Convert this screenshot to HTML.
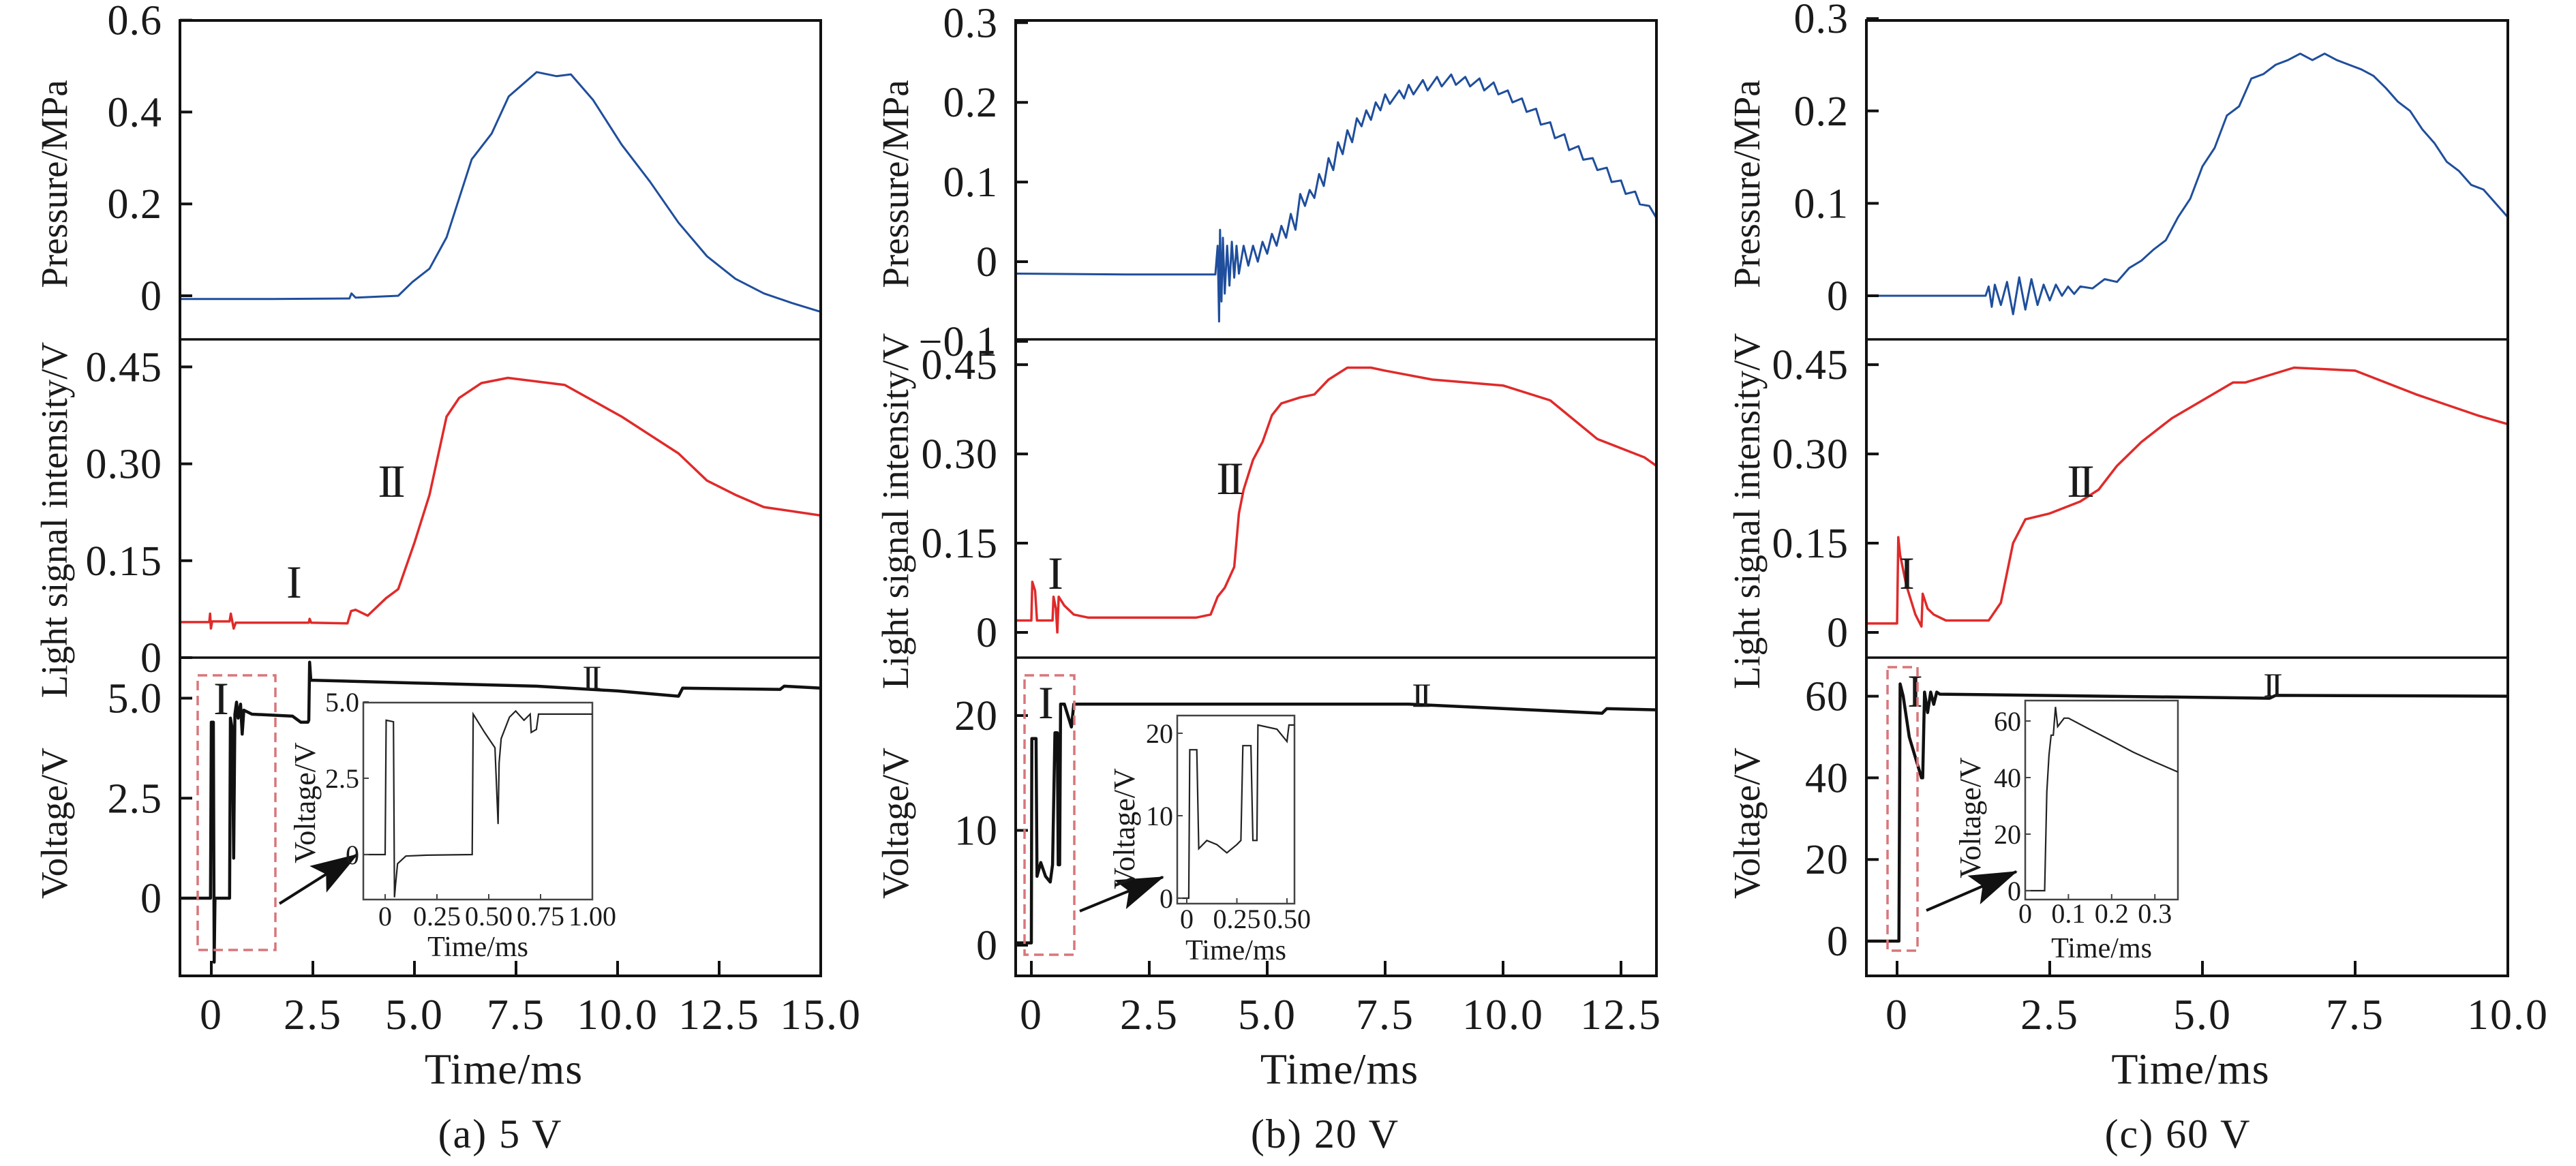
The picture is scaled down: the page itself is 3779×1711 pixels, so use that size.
<!DOCTYPE html>
<html><head><meta charset="utf-8"><style>
html,body{margin:0;padding:0;background:#fff}
svg{display:block}
text{font-family:"Liberation Serif",serif;fill:#1a1a1a}
</style></head><body>
<svg id="fig" width="3779" height="1711" viewBox="0 0 3779 1711" xmlns="http://www.w3.org/2000/svg"></svg>
<script>
// ===== Panel (a) 5 V data =====
const aTicksX=[0,2.5,5,7.5,10,12.5,15];
const aTickLabelsX=["0","2.5","5.0","7.5","10.0","12.5","15.0"];
const aPressT=[-0.77,1.5,3.4,3.45,3.55,4.6,4.95,5.37,5.79,6.41,6.9,7.32,8.01,8.5,8.85,9.4,10.1,10.8,11.5,12.2,12.9,13.6,14.3,15.0];
const aPressV=[-0.007,-0.007,-0.006,0.005,-0.004,0.0,0.03,0.059,0.127,0.297,0.353,0.434,0.487,0.478,0.482,0.426,0.329,0.248,0.159,0.086,0.037,0.005,-0.016,-0.035];
const aLightT=[-0.77,-0.05,-0.03,-0.01,0.02,0.45,0.48,0.55,0.6,1.5,2.4,2.42,2.46,3.35,3.44,3.55,3.85,4.3,4.6,5.0,5.37,5.79,6.1,6.65,7.3,8.7,10.1,11.5,12.2,12.9,13.6,15.0];
const aLightV=[0.055,0.055,0.068,0.045,0.056,0.056,0.068,0.045,0.054,0.054,0.054,0.06,0.054,0.053,0.072,0.074,0.065,0.092,0.106,0.178,0.252,0.373,0.402,0.425,0.433,0.422,0.373,0.316,0.274,0.252,0.233,0.22];
const aVoltT=[-0.77,-0.02,0.0,0.05,0.07,0.09,0.45,0.47,0.52,0.55,0.58,0.62,0.66,0.72,0.76,0.8,1.0,2.0,2.2,2.38,2.4,2.42,2.45,5,8,10,11.5,11.6,14,14.1,15];
const aVoltV=[0.0,0.0,4.4,4.4,-1.6,0.0,0.0,4.5,4.2,1.0,4.6,4.9,4.5,4.85,4.1,4.7,4.6,4.55,4.4,4.4,4.45,5.9,5.45,5.38,5.3,5.18,5.05,5.25,5.22,5.3,5.25];
const aInsT=[-0.105,0.0,0.005,0.04,0.045,0.05,0.06,0.1,0.2,0.42,0.425,0.48,0.53,0.545,0.55,0.56,0.6,0.63,0.67,0.7,0.705,0.73,0.74,1.0];
const aInsV=[0,0,4.4,4.35,-1.4,-1.0,-0.3,-0.05,-0.02,0,4.6,4.0,3.5,1.0,3.0,3.8,4.5,4.7,4.4,4.6,4.0,4.1,4.6,4.6];
// ===== Panel (b) 20 V data =====
const bTicksX=[0,2.5,5,7.5,10,12.5];
const bTickLabelsX=["0","2.5","5.0","7.5","10.0","12.5"];
const bPressT=[-0.33,2,3.9,3.95,3.98,4.0,4.03,4.06,4.1,4.15,4.2,4.25,4.3,4.35,4.4,4.5,4.6,4.7,4.8,4.9,5.0,5.1,5.2,5.3,5.4,5.5,5.6,5.7,5.8,5.9,6.0,6.1,6.2,6.3,6.4,6.5,6.6,6.7,6.8,6.9,7.0,7.1,7.2,7.3,7.4,7.5,7.6,7.8,7.9,8.0,8.1,8.3,8.4,8.6,8.7,8.9,9.0,9.2,9.3,9.5,9.6,9.8,9.9,10.1,10.2,10.4,10.5,10.7,10.8,11.0,11.1,11.3,11.4,11.6,11.7,11.9,12.0,12.2,12.3,12.5,12.6,12.8,12.9,13.1,13.25];
const bPressV=[-0.015,-0.016,-0.016,0.02,-0.075,0.04,-0.05,0.03,-0.04,0.02,-0.03,0.025,-0.02,0.02,-0.015,0.02,-0.005,0.02,0.0,0.025,0.01,0.035,0.02,0.045,0.03,0.06,0.04,0.085,0.07,0.09,0.08,0.11,0.095,0.13,0.115,0.15,0.135,0.165,0.15,0.18,0.17,0.19,0.178,0.2,0.19,0.21,0.198,0.215,0.205,0.222,0.21,0.228,0.215,0.232,0.22,0.235,0.222,0.232,0.22,0.23,0.215,0.225,0.21,0.215,0.2,0.205,0.188,0.192,0.172,0.175,0.155,0.16,0.14,0.145,0.128,0.13,0.115,0.118,0.1,0.102,0.085,0.088,0.072,0.07,0.055];
const bLightT=[-0.33,0.0,0.02,0.08,0.12,0.45,0.47,0.52,0.55,0.58,0.7,0.9,1.2,3.5,3.8,3.95,4.1,4.3,4.4,4.5,4.7,4.9,5.1,5.3,5.7,6.0,6.3,6.7,7.2,7.5,8.5,10,11,12,13,13.25];
const bLightV=[0.02,0.02,0.085,0.07,0.02,0.02,0.06,0.04,0.0,0.06,0.045,0.03,0.025,0.025,0.03,0.06,0.075,0.11,0.2,0.24,0.29,0.32,0.365,0.385,0.395,0.4,0.425,0.445,0.445,0.44,0.425,0.415,0.39,0.325,0.294,0.28];
const bVoltT=[-0.33,0.0,0.01,0.1,0.12,0.2,0.3,0.4,0.45,0.5,0.55,0.57,0.6,0.62,0.7,0.85,0.9,1.0,8,12.1,12.2,13.25];
const bVoltV=[0.2,0.2,18,18,6,7.2,6,5.5,7,18.5,18.5,7,7,21,21,19,21,21,21,20.2,20.6,20.5];
const bInsT=[-0.048,0.01,0.015,0.05,0.06,0.1,0.15,0.2,0.25,0.27,0.28,0.32,0.33,0.35,0.355,0.45,0.5,0.51,0.537];
const bInsV=[0,0,18,18,6,7,6.5,5.5,6.5,7,18.5,18.5,7,7,21,20.5,19,21,21];
// ===== Panel (c) 60 V data =====
const cTicksX=[0,2.5,5,7.5,10];
const cTickLabelsX=["0","2.5","5.0","7.5","10.0"];
const cPressT=[-0.5,1.45,1.5,1.55,1.6,1.7,1.8,1.9,2.0,2.1,2.2,2.3,2.4,2.5,2.6,2.7,2.8,2.9,3.0,3.2,3.4,3.6,3.8,4.0,4.2,4.4,4.6,4.8,5.0,5.2,5.4,5.6,5.8,6.0,6.2,6.4,6.6,6.8,7.0,7.2,7.4,7.6,7.8,8.0,8.2,8.4,8.6,8.8,9.0,9.2,9.4,9.6,9.8,10.0];
const cPressV=[0,0,0.01,-0.012,0.012,-0.01,0.015,-0.02,0.02,-0.015,0.018,-0.01,0.012,-0.005,0.012,0.0,0.01,0.002,0.01,0.008,0.018,0.015,0.03,0.038,0.05,0.06,0.085,0.105,0.14,0.16,0.195,0.205,0.235,0.24,0.25,0.255,0.262,0.255,0.262,0.255,0.25,0.245,0.238,0.225,0.21,0.2,0.18,0.165,0.145,0.135,0.12,0.115,0.1,0.085];
const cLightT=[-0.5,0.0,0.02,0.05,0.15,0.3,0.4,0.42,0.5,0.6,0.8,1.5,1.7,1.9,2.1,2.5,3.0,3.3,3.6,4.0,4.5,5.0,5.5,5.7,6.5,7.5,8.5,9.5,10];
const cLightV=[0.015,0.015,0.16,0.13,0.08,0.03,0.01,0.065,0.04,0.03,0.02,0.02,0.05,0.15,0.19,0.2,0.22,0.24,0.28,0.32,0.36,0.39,0.42,0.42,0.445,0.44,0.4,0.365,0.35];
const cVoltT=[-0.5,0.0,0.03,0.05,0.1,0.2,0.4,0.42,0.45,0.5,0.55,0.6,0.65,0.7,6.1,6.2,10];
const cVoltV=[0,0,0,63,60,50,40,40,61,56,61,58,61,60.5,59.5,60.2,60];
const cInsT=[0,0.045,0.05,0.055,0.06,0.065,0.07,0.075,0.09,0.1,0.15,0.2,0.25,0.3,0.353];
const cInsV=[0,0,35,48,55,55,65,58,61,61,57,53,49,45.5,42];

const NS="http://www.w3.org/2000/svg";
const svg=document.getElementById('fig');
function el(tag,attrs,parent){const e=document.createElementNS(NS,tag);for(const k in attrs)e.setAttribute(k,attrs[k]);(parent||svg).appendChild(e);return e;}
function txt(s,attrs,parent){const e=el('text',attrs,parent);e.textContent=s;return e;}
function pathD(T,V,sx,sy){return T.map((t,i)=>(i?'L':'M')+sx(t).toFixed(1)+','+sy(V[i]).toFixed(1)).join('');}

const TOP=30,D1=498,D2=965,BOT=1432;
const panels=[
 {id:'a',L:264,R:1204,px0:310,pxPer:59.6,ticksX:aTicksX,tlx:aTickLabelsX,
  p:{T:aPressT,V:aPressV,r0:434,per:674,ticks:[0,0.2,0.4,0.6],lab:["0","0.2","0.4","0.6"]},
  l:{T:aLightT,V:aLightV,r0:965,per:948,ticks:[0,0.15,0.3,0.45],lab:["0","0.15","0.30","0.45"]},
  v:{T:aVoltT,V:aVoltV,r0:1318,per:58.7,ticks:[0,2.5,5],lab:["0","2.5","5.0"]},
  ttlX:80,ttlY:[270,763,1208],
  romans:[['I',429,869,'light'],['II',572,721,'light'],['I',322,1040,'volt'],['II',866,1003,'volt']],
  dash:[290,991,404,1394],arrow:[410,1326,524,1254],
  ins:{L:533,R:869,T:1031,B:1320,xs:[0,565,304],ys:[0,1254,44.8],T_:aInsT,V_:aInsV,xt:[0,0.25,0.5,0.75,1.0],xl:["0","0.25","0.50","0.75","1.00"],yt:[0,2.5,5],yl:["0","2.5","5.0"],lx:448,ly:1178,cap:1389,tl:1344},
  caption:'(a) 5 V',capX:734},
 {id:'b',L:1490,R:2430,px0:1513,pxPer:69.2,ticksX:bTicksX,tlx:bTickLabelsX,
  p:{T:bPressT,V:bPressV,r0:384,per:1169,ticks:[-0.1,0,0.1,0.2,0.3],lab:["\u22120.1","0","0.1","0.2","0.3"]},
  l:{T:bLightT,V:bLightV,r0:928,per:873,ticks:[0,0.15,0.3,0.45],lab:["0","0.15","0.30","0.45"]},
  v:{T:bVoltT,V:bVoltV,r0:1387,per:16.85,ticks:[0,10,20],lab:["0","10","20"]},
  ttlX:1314,ttlY:[270,750,1208],
  romans:[['I',1546,856,'light'],['II',1802,717,'light'],['I',1532,1046,'volt'],['II',2083,1029,'volt']],
  dash:[1503,991,1576,1401],arrow:[1584,1337,1706,1287],
  ins:{L:1727,R:1899,T:1050,B:1326,xs:[0,1741,294],ys:[0,1318,12.1],T_:bInsT,V_:bInsV,xt:[0,0.25,0.5],xl:["0","0.25","0.50"],yt:[0,10,20],yl:["0","10","20"],lx:1650,ly:1216,cap:1394,tl:1348},
  caption:'(b) 20 V',capX:1944},
 {id:'c',L:2738,R:3679,px0:2783,pxPer:89.6,ticksX:cTicksX,tlx:cTickLabelsX,
  p:{T:cPressT,V:cPressV,r0:434,per:1356,ticks:[0,0.1,0.2,0.3],lab:["0","0.1","0.2","0.3"]},
  l:{T:cLightT,V:cLightV,r0:928,per:873,ticks:[0,0.15,0.3,0.45],lab:["0","0.15","0.30","0.45"]},
  v:{T:cVoltT,V:cVoltV,r0:1381,per:5.99,ticks:[0,20,40,60],lab:["0","20","40","60"]},
  ttlX:2563,ttlY:[270,750,1208],
  romans:[['I',2795,856,'light'],['II',3050,721,'light'],['I',2807,1029,'volt'],['II',3332,1014,'volt']],
  dash:[2769,979,2813,1395],arrow:[2826,1336,2958,1279],
  ins:{L:2971,R:3195,T:1028,B:1320,xs:[0,2971,634],ys:[0,1307,4.15],T_:cInsT,V_:cInsV,xt:[0,0.1,0.2,0.3],xl:["0","0.1","0.2","0.3"],yt:[0,20,40,60],yl:["0","20","40","60"],lx:2891,ly:1200,cap:1391,tl:1340},
  caption:'(c) 60 V',capX:3195}
];

const defs=el('defs',{});
const mk=el('marker',{id:'arr',orient:'auto',markerUnits:'userSpaceOnUse'},defs);
mk.setAttribute('markerWidth','70');mk.setAttribute('markerHeight','46');mk.setAttribute('refX','68');mk.setAttribute('refY','23');
el('path',{d:'M0,0 L70,23 L0,46 L14,23 Z',fill:'#111'},mk);

panels.forEach(P=>{
  const g=el('g',{});
  
  
  const sx=t=>P.px0+t*P.pxPer;
  const subs=[['pressure',P.p,TOP,D1,'#1f4e9c','Pressure/MPa',3],['light',P.l,D1,D2,'#e02a2a','Light signal intensity/V',3.5],['voltage',P.v,D2,BOT,'#111','Voltage/V',4.5]];
  subs.forEach((s,k)=>{
    const [nm,S,y0,y1,col,ttl,w]=s;
    const cp=el('clipPath',{id:'cp'+P.id+k},defs);
    el('rect',{x:P.L,y:y0,width:P.R-P.L,height:y1-y0},cp);
    const sy=v=>S.r0-v*S.per;
    const ln=el('path',{d:pathD(S.T,S.V,sx,sy),fill:'none',stroke:col,'stroke-width':w,'stroke-linejoin':'round','clip-path':'url(#cp'+P.id+k+')'},g);
    
    
    S.ticks.forEach((tv,i)=>{
      const y=sy(tv);
      el('line',{x1:P.L,x2:P.L+18,y1:y,y2:y,stroke:'#111','stroke-width':4},g);
      const tl=txt(S.lab[i],{x:P.L-26,y:y+21,'font-size':62,'text-anchor':'end','letter-spacing':'1'},g);
      
      
    });
    const yt=txt(ttl,{x:0,y:0,'font-size':55,'text-anchor':'middle',transform:`translate(${P.ttlX+18},${P.ttlY[k]}) rotate(-90)`},g);
    
    
  });
  el('rect',{x:P.L,y:TOP,width:P.R-P.L,height:BOT-TOP,fill:'none',stroke:'#111','stroke-width':4},g);
  el('line',{x1:P.L,x2:P.R,y1:D1,y2:D1,stroke:'#111','stroke-width':3.5},g);
  el('line',{x1:P.L,x2:P.R,y1:D2,y2:D2,stroke:'#111','stroke-width':3.5},g);
  P.ticksX.forEach((tv,i)=>{
    const x=sx(tv);
    el('line',{x1:x,x2:x,y1:BOT,y2:BOT-22,stroke:'#111','stroke-width':4},g);
    const tl=txt(P.tlx[i],{x:x,y:1510,'font-size':64,'text-anchor':'middle','letter-spacing':'2'},g);
    
    
  });
  const xt=txt('Time/ms',{x:(P.L+P.R)/2+5,y:1590,'font-size':64,'text-anchor':'middle','letter-spacing':'1'},g);
  
  
  const cap=txt(P.caption,{x:P.capX,y:1684,'font-size':60,'text-anchor':'middle','letter-spacing':'2'},g);
  
  
  P.romans.forEach(r=>{
    const t=txt(r[0],{x:r[1],y:r[2]+8,'font-size':r[3]==='volt'&&r[0]==='II'?50:68,'text-anchor':'middle','letter-spacing':'-5'},g);
    
    
  });
  const d=P.dash;
  const dr=el('rect',{x:d[0],y:d[1],width:d[2]-d[0],height:d[3]-d[1],fill:'none',stroke:'#d9767a','stroke-width':3.5,'stroke-dasharray':'14 8'},g);
  
  
  const a=P.arrow;
  const ar=el('line',{x1:a[0],y1:a[1],x2:a[2],y2:a[3],stroke:'#111','stroke-width':4,'marker-end':'url(#arr)'},g);
  
  
  const I=P.ins;
  const ig=el('g',{},g);
  
  
  el('rect',{x:I.L,y:I.T,width:I.R-I.L,height:I.B-I.T,fill:'#fff',stroke:'#444','stroke-width':2.5},ig);
  const isx=t=>I.xs[1]+(t-I.xs[0])*I.xs[2];
  const isy=v=>I.ys[1]-(v-I.ys[0])*I.ys[2];
  const icp=el('clipPath',{id:'icp'+P.id},defs);
  el('rect',{x:I.L,y:I.T,width:I.R-I.L,height:I.B-I.T},icp);
  const il=el('path',{d:pathD(I.T_,I.V_,isx,isy),fill:'none',stroke:'#222','stroke-width':2.2,'clip-path':'url(#icp'+P.id+')'},ig);
  
  
  I.xt.forEach((tv,i)=>{const x=isx(tv);el('line',{x1:x,x2:x,y1:I.B,y2:I.B-8,stroke:'#444','stroke-width':2},ig);
    const t=txt(I.xl[i],{x:x,y:I.tl+14,'font-size':40,'text-anchor':'middle'},ig);
    
    });
  I.yt.forEach((tv,i)=>{const y=isy(tv);el('line',{x1:I.L,x2:I.L+8,y1:y,y2:y,stroke:'#444','stroke-width':2},ig);
    const t=txt(I.yl[i],{x:I.L-6,y:y+14,'font-size':40,'text-anchor':'end'},ig);
    
    });
  const ixt=txt('Time/ms',{x:(I.L+I.R)/2,y:I.cap+14,'font-size':42,'text-anchor':'middle'},ig);
  
  
  const iyt=txt('Voltage/V',{x:0,y:0,'font-size':44,'text-anchor':'middle',transform:`translate(${I.lx+14},${I.ly}) rotate(-90)`},ig);
  
  
});
</script>
</body></html>
